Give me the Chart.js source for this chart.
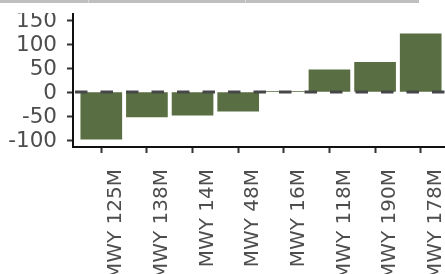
<!DOCTYPE html>
<html><head><meta charset="utf-8">
<script src="https://cdn.jsdelivr.net/npm/chart.js@4/dist/chart.umd.min.js"></script>
<style>
html,body{margin:0;padding:0;background:#fff;overflow:hidden;width:445px;height:274px;}
#strip{position:absolute;left:0;top:0;width:419px;height:3px;background:#bfbfbf;}
#strip i{position:absolute;top:0;width:1px;height:3px;background:#d8d8d8;}
#c{position:absolute;left:0;top:13px;}
</style></head><body>
<div id="strip"><i style="left:88px"></i><i style="left:245px"></i></div>
<canvas id="c" width="449" height="300"></canvas>
<script>
const categories = ['MWY 125M','MWY 138M','MWY 14M','MWY 48M','MWY 16M','MWY 118M','MWY 190M','MWY 178M'];
const values = [-98, -52, -48, -40, 1, 46, 62, 121];
const yTicks = [-100, -50, 0, 50, 100, 150];

const zeroLine = {
  id: 'zeroLine',
  afterDatasetsDraw(chart) {
    const {ctx, chartArea, scales: {y}} = chart;
    const py = y.getPixelForValue(0);
    ctx.save();
    ctx.strokeStyle = '#474747';
    ctx.lineWidth = 3;
    ctx.setLineDash([12.5, 13]);
    ctx.lineDashOffset = -2;
    ctx.beginPath();
    ctx.moveTo(chartArea.left, py);
    ctx.lineTo(chartArea.right, py);
    ctx.stroke();
    ctx.restore();
  }
};

new Chart(document.getElementById('c'), {
  type: 'bar',
  data: {
    datasets: [{
      data: values.map((v, i) => ({x: i, y: v})),
      backgroundColor: '#596e42',
      borderWidth: 0,
      barThickness: 41
    }]
  },
  options: {
    responsive: false,
    animation: false,
    devicePixelRatio: 1,
    layout: {padding: 0},
    plugins: {legend: {display: false}, tooltip: {enabled: false}},
    scales: {
      x: {
        type: 'linear', min: -0.62, max: 7.62, offset: false,
        afterBuildTicks(s) { s.ticks = categories.map((c, i) => ({value: i})); },
        afterFit(s) { s.height = 166; s.paddingLeft = 0; s.paddingRight = 0; },
        ticks: {autoSkip: false, maxRotation: 90, minRotation: 90, padding: 16, labelOffset: 15,
                color: '#4d4d4d', font: {family: 'DejaVu Sans', size: 20},
                callback: (v) => categories[v]},
        grid: {offset: false, drawOnChartArea: false, drawTicks: true, tickLength: 6, tickWidth: 2, tickColor: '#333'},
        border: {color: '#111', width: 2}
      },
      y: {
        min: -114.5, max: 164.6,
        afterBuildTicks(s) { s.ticks = yTicks.map(v => ({value: v})); },
        afterFit(s) { s.width = 73; s.paddingTop = 0; s.paddingBottom = 0; },
        ticks: {autoSkip: false, padding: 10, labelOffset: 1.5, color: '#4d4d4d',
                font: {family: 'DejaVu Sans', size: 21.5}},
        grid: {drawOnChartArea: false, drawTicks: true, tickLength: 6, tickWidth: 2, tickColor: '#333'},
        border: {color: '#111', width: 2}
      }
    }
  },
  plugins: [zeroLine]
});
</script>
</body></html>
